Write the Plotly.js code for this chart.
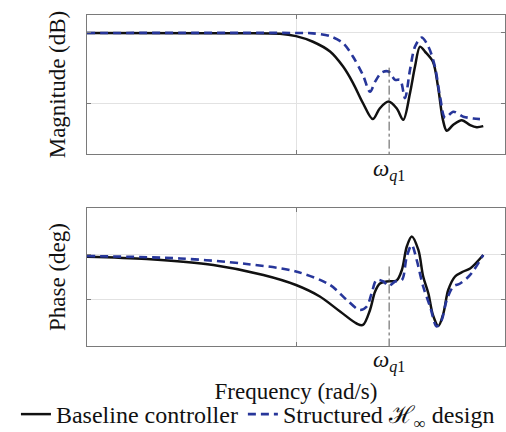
<!DOCTYPE html>
<html><head><meta charset="utf-8">
<script src="https://cdn.plot.ly/plotly-3.0.1.min.js"></script>
<style>html,body{margin:0;padding:0;background:#fff}</style>
</head><body><div id="chart" style="width:506px;height:432px"></div>
<script>
// Frequency grids (rad/s) and responses
const freqBaseMag = [0.1,0.402,0.838,1.0,1.205,1.455,1.68,1.875,2.09,2.33,2.52,2.77,3.03,3.26,3.51,3.71,3.92,4.14,4.52,4.78,5.05,5.26,5.64,6.21,6.81,7.32,7.87];
const magBase     = [0,-0.1,-0.2,-0.9,-2.5,-5.3,-9.6,-14.3,-20,-24.6,-21.5,-19.6,-21.5,-24.8,-17.2,-9.6,-3.9,-5.3,-8.2,-15.3,-24.9,-27.9,-26.3,-24.9,-26.3,-26.9,-26.6];
const freqHinfMag = [0.1,1.0,1.205,1.455,1.68,1.875,2.09,2.26,2.39,2.57,2.77,2.98,3.15,3.32,3.51,3.71,3.99,4.30,4.62,4.89,5.17,5.66,6.32,7.05,7.59];
const magHinf     = [0,0,-0.1,-0.9,-2.9,-6.8,-12,-16.8,-13.9,-11.3,-11,-13.4,-13.4,-18.6,-10.6,-3.9,-1.3,-3.9,-9.6,-18.2,-24.2,-22.5,-23.9,-24.4,-24.6];
const freqBasePh  = [0.1,0.193,0.402,0.698,1.0,1.30,1.625,1.95,2.09,2.26,2.39,2.52,2.72,3.03,3.21,3.39,3.58,3.85,4.06,4.30,4.52,4.80,5.07,5.35,5.77,6.32,6.81,7.87];
const phaseBase   = [-3.3,-8,-20,-40,-60,-83,-113,-137,-140,-110,-73,-57,-53,-51,-30,17,37,10,-43,-77,-120,-142,-117,-70,-43,-33,-27,0];
const freqHinfPh  = [0.1,0.279,0.581,1.0,1.455,1.75,2.02,2.18,2.30,2.43,2.62,2.77,2.98,3.21,3.39,3.58,3.78,4.06,4.38,4.71,4.98,5.26,5.66,6.10,6.81,7.87];
const phaseHinf   = [-2,-7,-18,-33,-60,-90,-110,-103,-77,-50,-53,-62,-53,-50,-3,20,-10,-63,-103,-143,-130,-90,-63,-57,-40,0];
// Marker frequency and where its dash-dot guide starts in each panel
const wq1 = 2.79;
const wq1MagTop = -9.9;
const wq1PhTop = -23;
// Tick values
const xTicks = [1];
const magTicks = [-20, 0];
const phaseTicks = [-90, 0];
const seriesNames = ['Baseline controller', 'Structured \u210B<sub>\u221E</sub> design'];

const black = '#111111', blue = '#27369a';
const serif = 'Liberation Serif';

const traces = [
  {x: freqBaseMag, y: magBase, xaxis:'x', yaxis:'y', mode:'lines', name: seriesNames[0], legendgroup:'a',
   line:{color:black, width:2.5, shape:'spline', smoothing:0.9}},
  {x: freqHinfMag, y: magHinf, xaxis:'x', yaxis:'y', mode:'lines', name: seriesNames[1], legendgroup:'b',
   line:{color:blue, width:2.6, dash:'8px,5px', shape:'spline', smoothing:0.9}},
  {x: freqBasePh, y: phaseBase, xaxis:'x2', yaxis:'y2', mode:'lines', name: seriesNames[0], legendgroup:'a', showlegend:false,
   line:{color:black, width:2.5, shape:'spline', smoothing:0.9}},
  {x: freqHinfPh, y: phaseHinf, xaxis:'x2', yaxis:'y2', mode:'lines', name: seriesNames[1], legendgroup:'b', showlegend:false,
   line:{color:blue, width:2.6, dash:'8px,5px', shape:'spline', smoothing:0.9}}
];

const axCommon = {showline:true, linecolor:'#7a7a7a', linewidth:1, mirror:'ticks', ticks:'inside', ticklen:4,
  tickcolor:'#7a7a7a', showticklabels:false, gridcolor:'#e2e2e2', gridwidth:1, zeroline:false};

const layout = {
  width:506, height:432,
  margin:{l:87, r:1, t:15, b:86, autoexpand:false},
  paper_bgcolor:'#fff', plot_bgcolor:'#fff',
  font:{family:serif, color:'#111', size:20},
  showlegend:true,
  legend:{orientation:'h', x:-0.17, xanchor:'left', y:-0.207, yanchor:'middle',
    itemwidth:30, tracegroupgap:0,
    font:{family:serif, size:24, color:'#111'}, traceorder:'normal', itemclick:false},
  xaxis: Object.assign({}, axCommon, {type:'log', range:[-1,1], tickvals:xTicks, domain:[0,1], anchor:'y'}),
  yaxis: Object.assign({}, axCommon, {range:[-34.57,5.14], tickvals:magTicks, domain:[0.58,1], anchor:'x',
    title:{text:'Magnitude (dB)', font:{family:serif, size:23}, standoff:13}}),
  xaxis2: Object.assign({}, axCommon, {type:'log', range:[-1,1], tickvals:xTicks, domain:[0,1], anchor:'y2',
    title:{text:'Frequency (rad/s)', font:{family:serif, size:23}, standoff:36}}),
  yaxis2: Object.assign({}, axCommon, {range:[-182,94], tickvals:phaseTicks, domain:[0,0.417], anchor:'x2',
    title:{text:'Phase (deg)', font:{family:serif, size:23}, standoff:13}}),
  shapes:[
    {type:'line', xref:'x', yref:'y', x0:wq1, x1:wq1, y0:wq1MagTop, y1:-34.57, line:{color:'#555', width:1, dash:'dashdot'}},
    {type:'line', xref:'x2', yref:'y2', x0:wq1, x1:wq1, y0:wq1PhTop, y1:-182, line:{color:'#555', width:1, dash:'dashdot'}}
  ],
  annotations:[
    {x:Math.log10(wq1), xref:'x', y:0, yref:'y domain', yanchor:'top', yshift:0, showarrow:false,
     text:'<i>\u03C9</i><sub><i>q</i>1</sub>', font:{family:serif, size:23}},
    {x:Math.log10(wq1), xref:'x2', y:0, yref:'y2 domain', yanchor:'top', yshift:1, showarrow:false,
     text:'<i>\u03C9</i><sub><i>q</i>1</sub>', font:{family:serif, size:23}}
  ]
};
Plotly.newPlot('chart', traces, layout, {displayModeBar:false, staticPlot:true});
</script></body></html>
